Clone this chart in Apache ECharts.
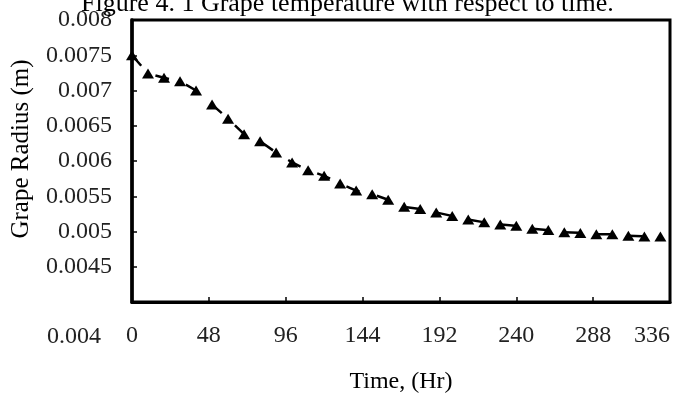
<!DOCTYPE html>
<html>
<head>
<meta charset="utf-8">
<script src="https://cdn.jsdelivr.net/npm/echarts@6/dist/echarts.min.js"></script>
<style>html,body{margin:0;padding:0;background:#fff;}#c{width:673px;height:399px;}</style>
</head>
<body>
<div id="c"></div>
<script>
var titleText = 'Figure 4. 1 Grape temperature with respect to time.';
var xName = 'Time, (Hr)';
var yName = 'Grape Radius (m)';
var timeHr = [0,10,20,30,40,50,60,70,80,90,100,110,120,130,140,150,160,170,180,190,200,210,220,230,240,250,260,270,280,290,300,310,320,330];
var radius = [0.00750,0.00724,0.00718,0.00713,0.00700,0.00680,0.00660,0.00638,0.00628,0.00612,0.00598,0.00587,0.00579,0.00568,0.00558,0.00553,0.00545,0.00535,0.00532,0.00527,0.00522,0.00517,0.00513,0.00510,0.00508,0.00504,0.00502,0.00499,0.00498,0.00496,0.00496,0.00494,0.00493,0.00493];
var xMin = 0, xMax = 336, xStep = 48;
var yMin = 0.004, yMax = 0.008, yStep = 0.0005;

var FONT = "'Liberation Serif','Times New Roman',serif";
var chart = echarts.init(document.getElementById('c'), null, {renderer: 'canvas'});
var pts = timeHr.map(function (t, i) { return [t, radius[i]]; });

function fmtNum(v) {
  return v.toFixed(4).replace(/0+$/, '').replace(/\.$/, '');
}

chart.setOption({
  animation: false,
  backgroundColor: '#fff',
  title: {
    text: titleText,
    left: 76,
    top: -14,
    textStyle: {fontFamily: FONT, fontSize: 26, fontWeight: 'normal', color: '#000'}
  },
  grid: {
    left: 132, right: 3, top: 20, bottom: 96,
    show: true, borderColor: '#000', borderWidth: 3, backgroundColor: 'transparent'
  },
  xAxis: {
    type: 'value',
    min: xMin, max: xMax, interval: xStep,
    name: xName,
    nameLocation: 'middle',
    nameGap: 68,
    nameTextStyle: {fontFamily: FONT, fontSize: 24, color: '#000'},
    axisLine: {show: true, lineStyle: {color: '#000', width: 3}},
    axisTick: {show: true, inside: true, length: 5, lineStyle: {color: '#000', width: 1.5}},
    axisLabel: {fontFamily: FONT, fontSize: 24, color: '#222', margin: 22, alignMaxLabel: 'right'},
    splitLine: {show: false}
  },
  yAxis: {
    type: 'value',
    min: yMin, max: yMax, interval: yStep,
    name: yName,
    nameLocation: 'middle',
    nameGap: 98,
    nameRotate: 90,
    nameTextStyle: {fontFamily: FONT, fontSize: 25, color: '#000', padding: [0, 0, 0, 24]},
    axisLine: {show: true, lineStyle: {color: '#000', width: 3.5}},
    axisTick: {show: true, inside: true, length: 5, lineStyle: {color: '#000', width: 1.5}},
    axisLabel: {
      fontFamily: FONT, fontSize: 24, color: '#222', margin: 20,
      showMinLabel: false,
      formatter: fmtNum
    },
    splitLine: {show: false}
  },
  graphic: [{
    type: 'text',
    right: 673 - 101,
    top: 325,
    style: {text: fmtNum(yMin), fontFamily: FONT, fontSize: 24, fill: '#222'}
  }],
  series: [{
    type: 'line',
    data: pts,
    symbol: 'triangle',
    symbolSize: [12, 10],
    showSymbol: true,
    itemStyle: {color: '#000'},
    lineStyle: {color: '#000', width: 2.5, type: [14, 18]},
    z: 3
  }]
});
</script>
</body>
</html>
